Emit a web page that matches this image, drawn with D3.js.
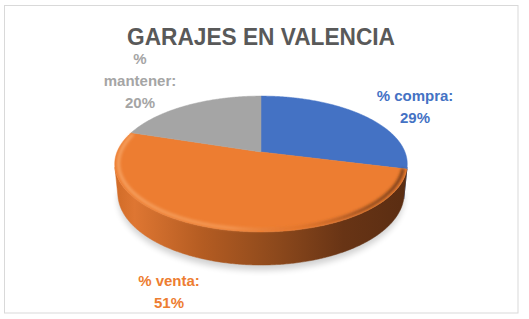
<!DOCTYPE html>
<html>
<head>
<meta charset="utf-8">
<script src="https://cdn.jsdelivr.net/npm/d3@7/dist/d3.min.js"></script>
<style>
  body { margin: 0; background: #fff; }
  svg { display: block; }
  text { font-family: 'Liberation Sans', Arial, sans-serif; font-weight: bold; }
</style>
</head>
<body>
<div id="chart"></div>
<script>
// Data
const title = 'GARAJES EN VALENCIA'
const categories = ['% compra', '% venta', '% mantener']
const values = [29, 51, 20]
const colors = ['#4472C4', '#ED7D31', '#A5A5A5']
const wall_colors = ['#2F5192', '#ED7D31', '#6E6E6E']

// Layout
const W = 529, H = 319
const label_anchor = [[415, 100.5], [169, 285.5], [140, 63.5]]
const label_line_h = 22
const label_max_w = 85

// 3D projection of the pie (unit radius disc, camera tilted)
const cam = { cx: 261, cy: 152, f: 725.6, D: 5.04, alpha: Math.asin(0.457), T: 0.2316 }

function project(theta, r, h) {
  let x = r * Math.sin(theta)
  let z = -r * Math.cos(theta)
  let sa = Math.sin(cam.alpha), ca = Math.cos(cam.alpha)
  let d = cam.D - h * sa - z * ca
  return [cam.cx + cam.f * x / d, cam.cy + cam.f * (z * sa - h * ca) / d]
}

function arc_points(a0, a1, r, h) {
  let n = Math.max(2, Math.ceil((a1 - a0) / 0.01))
  return d3.range(n + 1).map(i => project(a0 + (a1 - a0) * i / n, r, h))
}

const line = d3.line()

const svg = d3.select('#chart')
  .append('svg')
  .attr('width', W)
  .attr('height', H)

const defs = svg.append('defs')

// Wall gradient (light left, dark brown right)
let wall_grad = defs.append('linearGradient')
  .attr('id', 'wall-orange')
  .attr('gradientUnits', 'userSpaceOnUse')
  .attr('x1', 114).attr('x2', 408).attr('y1', 0).attr('y2', 0)
for (let [o, c] of [[0, '#D06B27'], [0.07, '#DE7632'], [0.3, '#B45C22'], [0.55, '#8D491C'], [0.78, '#683415'], [1, '#5A2D12']]) {
  wall_grad.append('stop').attr('offset', o).attr('stop-color', c)
}

let wall_blue = defs.append('linearGradient')
  .attr('id', 'wall-blue')
  .attr('gradientUnits', 'userSpaceOnUse')
  .attr('x1', 380).attr('x2', 408).attr('y1', 0).attr('y2', 0)
wall_blue.append('stop').attr('offset', 0).attr('stop-color', '#2F5192')
wall_blue.append('stop').attr('offset', 1).attr('stop-color', '#233C6C')

// Bevel gradient on top edge
let bevel_grad = defs.append('linearGradient')
  .attr('id', 'bevel')
  .attr('gradientUnits', 'userSpaceOnUse')
  .attr('x1', 114).attr('x2', 408).attr('y1', 0).attr('y2', 0)
for (let [o, c, op] of [[0, '#F9B075', 0.75], [0.4, '#F7A464', 0.7], [0.62, '#D06A26', 0.4], [0.85, '#6B3616', 0.75], [1, '#5A2D12', 0.9]]) {
  bevel_grad.append('stop').attr('offset', o).attr('stop-color', c).attr('stop-opacity', op)
}

defs.append('filter').attr('id', 'blur-s')
  .attr('x', '-10%').attr('y', '-50%').attr('width', '120%').attr('height', '200%')
  .append('feGaussianBlur').attr('stdDeviation', 1.4)
defs.append('filter').attr('id', 'blur-l')
  .attr('x', '-10%').attr('y', '-50%').attr('width', '120%').attr('height', '200%')
  .append('feGaussianBlur').attr('stdDeviation', 3)

// Frame
svg.append('rect')
  .attr('x', 4.5).attr('y', 5.5)
  .attr('width', 513.5).attr('height', 307.5)
  .attr('fill', '#fff')
  .attr('stroke', '#D9D9D9')

// Title
svg.append('text')
  .attr('x', 261).attr('y', 45)
  .attr('text-anchor', 'middle')
  .attr('font-size', 24.5)
  .attr('fill', '#595959')
  .attr('textLength', 268)
  .attr('lengthAdjust', 'spacingAndGlyphs')
  .text(title)

// Pie angles from d3.pie
const pie = d3.pie().sort(null).startAngle(0).endAngle(2 * Math.PI)
const slices = pie(values)

const g = svg.append('g')

// Shadow under the pie
let vis_min = Math.PI - Math.acos(1 / (cam.D * Math.cos(cam.alpha)))
let vis_max = Math.PI + Math.acos(1 / (cam.D * Math.cos(cam.alpha)))
let shadow_pts = arc_points(vis_min - 0.15, vis_max + 0.15, 1.0, -cam.T - 0.03)
  .map(p => [p[0], p[1] + 1])
g.append('path')
  .attr('d', line(shadow_pts) + 'Z')
  .attr('fill', '#000')
  .attr('opacity', 0.18)
  .attr('filter', 'url(#blur-l)')

// Outer walls (only the part facing the camera)
slices.forEach((s, i) => {
  let a0 = Math.max(s.startAngle, vis_min)
  let a1 = Math.min(s.endAngle, vis_max)
  if (a1 <= a0) return
  let top = arc_points(a0, a1, 1, 0)
  let bot = arc_points(a0, a1, 1, -cam.T).reverse()
  let fill = i === 1 ? 'url(#wall-orange)' : (i === 0 ? 'url(#wall-blue)' : wall_colors[i])
  g.append('path')
    .attr('d', line(top.concat(bot)) + 'Z')
    .attr('fill', fill)
    .attr('stroke', fill)
    .attr('stroke-width', 0.5)
})

// Top faces
slices.forEach((s, i) => {
  let pts = [project(0, 0, 0)].concat(arc_points(s.startAngle, s.endAngle, 1, 0))
  g.append('path')
    .attr('d', line(pts) + 'Z')
    .attr('fill', colors[i])
    .attr('stroke', colors[i])
    .attr('stroke-width', 0.5)
})

// Bevel highlight along the front edge
let bevel_pts = arc_points(Math.max(vis_min - 0.1, slices[1].startAngle), slices[1].endAngle - 0.02, 0.975, 0)
g.append('path')
  .attr('d', line(bevel_pts))
  .attr('fill', 'none')
  .attr('stroke', 'url(#bevel)')
  .attr('stroke-width', 3)
  .attr('filter', 'url(#blur-s)')

// Labels
const labels = svg.append('g')
slices.forEach((s, i) => {
  let full = categories[i] + ':'
  let t = labels.append('text')
    .attr('text-anchor', 'middle')
    .attr('font-size', 15)
    .attr('fill', colors[i])

  // wrap label when too wide
  let words = full.split(' ')
  let lines = []
  let cur = ''
  for (let w of words) {
    let test = cur ? cur + ' ' + w : w
    t.text(test)
    if (cur && t.node().getComputedTextLength() > label_max_w) {
      lines.push(cur)
      cur = w
    } else {
      cur = test
    }
  }
  lines.push(cur)
  lines.push(values[i] + '%')
  t.text(null)

  let [lx, ly] = label_anchor[i]
  lines.forEach((l, k) => {
    t.append('tspan')
      .attr('x', lx)
      .attr('y', ly + k * label_line_h)
      .text(l)
  })
})
</script>
</body>
</html>
